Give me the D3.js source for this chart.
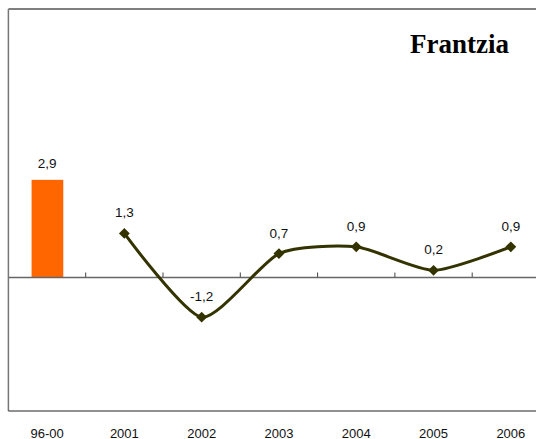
<!DOCTYPE html>
<html><head><meta charset="utf-8">
<script src="https://cdn.jsdelivr.net/npm/d3@7"></script>
<style>html,body{margin:0;padding:0;background:#fff;overflow:hidden}</style>
</head><body><svg id="c" width="536" height="439"></svg>
<script>
const categories = ["96-00","2001","2002","2003","2004","2005","2006"];
const barCategories = ["96-00"];
const barValues = [2.9];
const lineCategories = ["2001","2002","2003","2004","2005","2006"];
const lineValues = [1.3,-1.2,0.7,0.9,0.2,0.9];
const title = "Frantzia";

(function(){
const svg = d3.select("#c");
const L = 8.4, R = 549.5, T = 9, B = 411;
const x = d3.scaleBand().domain(categories).range([L, R]).paddingInner(0).paddingOuter(0);
const y = d3.scaleLinear().domain([-4, 8]).range([B, T]);
const fmt = v => String(v).replace(".", ",");

// frame
svg.append("line").attr("x1", L).attr("x2", 536).attr("y1", T).attr("y2", T).attr("stroke", "#000").attr("stroke-width", 1.2);
svg.append("line").attr("x1", L).attr("x2", L).attr("y1", T).attr("y2", B).attr("stroke", "#777").attr("stroke-width", 1.5);
svg.append("line").attr("x1", L).attr("x2", 536).attr("y1", B).attr("y2", B).attr("stroke", "#222").attr("stroke-width", 1.2);

// bars
svg.selectAll("rect.bar").data(barCategories).enter().append("rect")
  .attr("x", d => x(d) + x.bandwidth()*0.3)
  .attr("width", x.bandwidth()*0.41)
  .attr("y", (d,i) => y(barValues[i]))
  .attr("height", (d,i) => y(0) - y(barValues[i]))
  .attr("fill", "#ff6600");

// zero axis with ticks pointing up
const ax = svg.append("g").attr("transform", `translate(0,${y(0)})`)
  .call(d3.axisTop(x).tickSize(0).tickFormat(""));
ax.select(".domain").attr("stroke", "#666").attr("stroke-width", 1.5);
ax.selectAll(".tick").remove();
svg.selectAll("line.tk").data(categories.slice(1)).enter().append("line")
  .attr("x1", d => x(d)).attr("x2", d => x(d))
  .attr("y1", y(0)).attr("y2", y(0) - 4.5)
  .attr("stroke", "#444").attr("stroke-width", 1);

// line
const pts = lineCategories.map((c,i) => [x(c) + x.bandwidth()/2, y(lineValues[i])]);
svg.append("path").attr("d", d3.line().curve(d3.curveCardinal.tension(0.35))(pts))
  .attr("fill", "none").attr("stroke", "#333300").attr("stroke-width", 3);
svg.selectAll("path.mk").data(pts).enter().append("path")
  .attr("d", d3.symbol(d3.symbolDiamond2, 75)())
  .attr("transform", d => `translate(${d[0]},${d[1]})`)
  .attr("fill", "#333300");

// value labels
const lab = svg.append("g").attr("font-family", "Liberation Sans, Arial, sans-serif").attr("font-size", 13.5).attr("fill", "#111").attr("text-anchor", "middle");
barCategories.forEach((c,i) => lab.append("text").attr("x", x(c) + x.bandwidth()/2).attr("y", y(barValues[i]) - 12).text(fmt(barValues[i])));
lineCategories.forEach((c,i) => lab.append("text").attr("x", x(c) + x.bandwidth()/2).attr("y", y(lineValues[i]) - 16).text(fmt(lineValues[i])));

// category labels
const cl = svg.append("g").attr("font-family", "Liberation Sans, Arial, sans-serif").attr("font-size", 13).attr("fill", "#111").attr("text-anchor", "middle");
categories.forEach(c => cl.append("text").attr("x", x(c) + x.bandwidth()/2).attr("y", 437.5).text(c));

svg.append("text").attr("x", 509).attr("y", 53).attr("text-anchor", "end")
  .attr("font-family", "Liberation Serif, Times New Roman, serif").attr("font-weight", "bold").attr("font-size", 27).attr("fill", "#000").text(title);
})();
</script></body></html>
